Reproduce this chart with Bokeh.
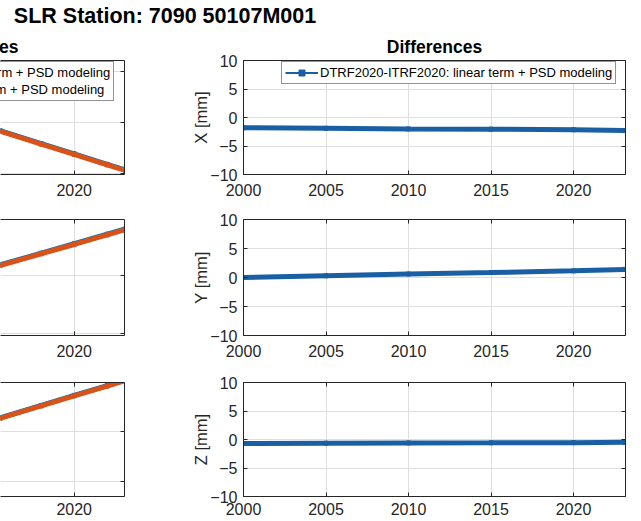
from bokeh.plotting import figure
from bokeh.layouts import row, column
from bokeh.models import Range1d, FixedTicker, LinearAxis, Label, Legend, LegendItem, Title
from bokeh.embed import file_html
from bokeh.resources import INLINE

FONT = "Liberation Sans"
TXT = "#262626"
GRID = "#dedede"
BLUE = "#0072BD"
ORANGE = "#D95319"
BLUE_D = "#1A5FA3"

# ---------------- texts ----------------
main_title = "SLR Station: 7090 50107M001"
left_title = "Time series"
right_title = "Differences"
components = ["X", "Y", "Z"]
legend_left = ["DTRF2020: linear term + PSD modeling", "ITRF2020: linear term + PSD modeling"]
legend_right = "DTRF2020-ITRF2020: linear term + PSD modeling"

# ---------------- data ----------------
# left column: position time series (values read off the visible part, mm)
ts_years = [2015.5, 2018.0, 2020.0, 2022.0, 2023.1]
ts_x_dtrf = [-232, -283, -323, -364, -386]
ts_x_itrf = [-234, -285, -325, -366, -388]
ts_y_dtrf = [236.5, 277, 309.5, 342.5, 360.5]
ts_y_itrf = [234, 275, 307, 340, 358]
ts_z_dtrf = [253, 302, 342, 381, 403]
ts_z_itrf = [251, 300, 340, 379, 401]
ts_yticks = [[-400, -200, 0], [0, 200, 400], [0, 200, 400]]
ts_ylims = [(-403.8, 42.3), (-6.9, 393.1), (-60.4, 393.3)]

# right column: differences DTRF2020 - ITRF2020 (mm)
diff_years = [2000.0, 2005.0, 2010.0, 2015.0, 2020.0, 2023.1]
diff_x = [-1.8, -1.9, -2.0, -2.05, -2.15, -2.3]
diff_y = [0.0, 0.3, 0.6, 0.85, 1.15, 1.4]
diff_z = [-0.7, -0.65, -0.6, -0.58, -0.55, -0.5]
diff_yticks = [-10, -5, 0, 5, 10]
diff_ylim = (-10, 10)
year_ticks = [2000, 2005, 2010, 2015, 2020]
right_xlim = (2000, 2023.15)
left_xlim = (2015.53, 2023.05)


def style_axis(ax, ticks, labels, standoff=6, fs="16px"):
    ax.ticker = FixedTicker(ticks=ticks)
    ax.axis_line_color = TXT
    ax.axis_line_width = 1
    ax.major_tick_in = 4
    ax.major_tick_out = 0
    ax.major_tick_line_color = TXT
    ax.minor_tick_line_color = None
    ax.major_label_text_font = FONT
    if labels:
        ax.major_label_text_color = TXT
        ax.major_label_text_font_size = fs
        ax.major_label_standoff = standoff
    else:
        ax.major_label_text_color = None
        ax.major_label_text_font_size = "0px"
        ax.major_label_standoff = 0


def panel(width, height, bt, bb, bl, br, xr, yr, xticks, yticks, left_axis, xstand):
    p = figure(width=width, height=height, x_range=Range1d(*xr), y_range=Range1d(*yr),
               output_backend="svg", toolbar_location=None,
               x_axis_location="below", y_axis_location=("left" if left_axis else "right"),
               min_border_top=bt, min_border_bottom=bb, min_border_left=bl, min_border_right=br)
    p.outline_line_color = None
    p.background_fill_color = "white"
    p.border_fill_color = "white"
    style_axis(p.xaxis[0], xticks, True, xstand)
    style_axis(p.yaxis[0], yticks, left_axis, 6)
    top = LinearAxis()
    style_axis(top, xticks, False)
    p.add_layout(top, "above")
    if left_axis:
        rax = LinearAxis()
        style_axis(rax, yticks, False)
        p.add_layout(rax, "right")
    p.xgrid.grid_line_color = GRID
    p.ygrid.grid_line_color = GRID
    return p


def style_legend(lg):
    lg.label_text_font = FONT
    lg.label_text_font_size = "13px"
    lg.label_text_color = "#000000"
    lg.border_line_color = TXT
    lg.border_line_width = 1
    lg.background_fill_color = "white"
    lg.background_fill_alpha = 1.0
    lg.padding = 3
    lg.spacing = 2
    lg.margin = 0
    lg.glyph_width = 33
    lg.glyph_height = 15
    lg.label_height = 15
    lg.label_standoff = 2


def panel_title(text, align, offset):
    return Title(text=text, align=align, offset=offset, standoff=8,
                 text_font=FONT, text_font_size="17.5px", text_font_style="bold",
                 text_color="#000000")


# ---------------- title strip (main title) ----------------
TH = 30
tfig = figure(width=641, height=TH, x_range=Range1d(0, 1), y_range=Range1d(0, 1),
              output_backend="svg", toolbar_location=None,
              x_axis_location=None, y_axis_location=None,
              min_border=0, min_border_left=0, min_border_right=0, min_border_top=0, min_border_bottom=0)
tfig.outline_line_color = None
tfig.grid.visible = False
# label y = distance of the text's middle line from the strip's bottom
tfig.add_layout(Label(x=164.5, y=TH - 15.3, x_units="screen", y_units="screen", text=main_title,
                      text_align="center", text_baseline="middle", text_font=FONT,
                      text_font_size="21.5px", text_font_style="bold", text_color="#000000"))

# ---------------- panels ----------------
# (figure height, border top, border bottom, x label standoff)
rows_geom = [(172, 28, 28, 9), (160, 17, 27, 9), (159, 20, 25, 6)]
ts_dtrf = [ts_x_dtrf, ts_y_dtrf, ts_z_dtrf]
ts_itrf = [ts_x_itrf, ts_y_itrf, ts_z_itrf]
diffs = [diff_x, diff_y, diff_z]

rows = []
for i in range(3):
    h, bt, bb, xs = rows_geom[i]
    # left: time series (only its right part is in view)
    pl = panel(158, h, bt, bb, 0, 34, left_xlim, ts_ylims[i], year_ticks, ts_yticks[i], False, xs)
    b1 = pl.line(ts_years, ts_dtrf[i], line_color=BLUE, line_width=2)
    b2 = pl.scatter(ts_years, ts_dtrf[i], marker="square", size=4, color=BLUE)
    pl.line(ts_years, ts_dtrf[i], line_color=BLUE, line_width=5)
    o1 = pl.line(ts_years, ts_itrf[i], line_color=ORANGE, line_width=2)
    o2 = pl.scatter(ts_years, ts_itrf[i], marker="square", size=4, color=ORANGE)
    pl.line(ts_years, ts_itrf[i], line_color=ORANGE, line_width=5)
    if i == 0:
        lg = Legend(items=[LegendItem(label=legend_left[0], renderers=[b1, b2]),
                           LegendItem(label=legend_left[1], renderers=[o1, o2])],
                    location=(-159, 73))
        style_legend(lg)
        pl.add_layout(lg)
        pl.title = panel_title(left_title, "left", -78)

    # right: differences
    pr = panel(483, h, bt, bb, 85, 16, right_xlim, diff_ylim, year_ticks, diff_yticks, True, xs)
    ax = pr.yaxis[0]
    ax.axis_label = components[i] + " [mm]"
    ax.axis_label_text_font = FONT
    ax.axis_label_text_font_size = "16.5px"
    ax.axis_label_text_font_style = "normal"
    ax.axis_label_text_color = TXT
    ax.axis_label_standoff = -3
    d1 = pr.line(diff_years, diffs[i], line_color=BLUE_D, line_width=2)
    d2 = pr.scatter(diff_years, diffs[i], marker="square", size=4, color=BLUE_D)
    pr.line(diff_years, diffs[i], line_color=BLUE_D, line_width=5)
    if i == 0:
        lg = Legend(items=[LegendItem(label=legend_right, renderers=[d1, d2])], location=(38, 90))
        style_legend(lg)
        pr.add_layout(lg)
        pr.title = panel_title(right_title, "center", 0)
    rows.append(row(pl, pr))

layout = column(tfig, *rows)
open("out.html", "w").write(file_html(layout, INLINE))
